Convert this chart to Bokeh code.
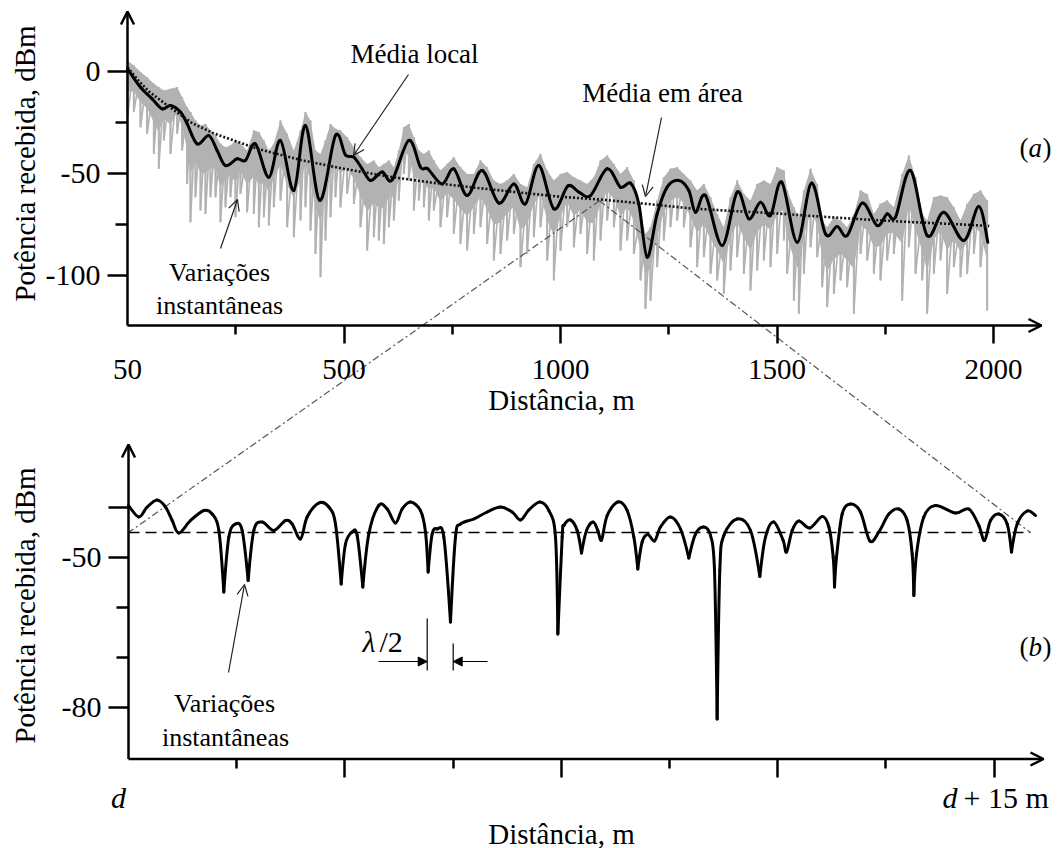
import numpy as np
from bokeh.plotting import figure
from bokeh.models import Range1d, LinearAxis, FixedTicker, Arrow, OpenHead, NormalHead, Label
from bokeh.embed import file_html
from bokeh.resources import INLINE

# ---------------- data, panel (a): distance (m) vs received power (dBm) -------------
inst_x = [0, 14.6, 30.0, 45.4, 60.8, 72.3, 83.9, 99.3, 114.7, 126.2, 137.8, 145.4, 157.0, 168.6,
          180.1, 191.6, 203.2, 214.7, 226.3, 237.8, 249.4, 260.9, 276.3, 291.7, 303.3, 314.8,
          326.4, 337.9, 353.3, 368.7, 384.1, 399.5, 411.0, 422.6, 434.1, 445.7, 457.2, 468.8,
          480.3, 491.9, 507.3, 522.7, 538.1, 553.5, 568.9, 580.4, 592.0, 603.5, 615.1, 626.6,
          638.2, 649.7, 661.3, 672.8, 684.4, 695.9, 707.4, 722.8, 738.2, 753.6, 769.0, 784.4,
          799.8, 815.2, 830.6, 846.0, 861.4, 876.8, 892.2, 907.6, 923.0, 938.4, 953.8, 969.2,
          984.6, 1000.0, 1015.4, 1030.8, 1046.2, 1061.6, 1077.0, 1092.4, 1107.8, 1123.2, 1138.6,
          1154.0, 1169.4, 1184.8, 1196.3, 1207.8, 1223.2, 1238.6, 1254.0, 1269.4, 1284.8,
          1300.2, 1315.6, 1331.0, 1346.4, 1361.8, 1377.2, 1392.6, 1408.0, 1423.4, 1438.8,
          1454.2, 1469.6, 1485.0, 1500.4, 1515.8, 1523.5, 1538.9, 1550.4, 1562.0, 1577.4,
          1592.8, 1604.3, 1615.9, 1631.3, 1646.7, 1662.1, 1677.5, 1692.9, 1708.3, 1723.6,
          1739.0, 1754.4, 1769.8, 1789.1, 1804.5, 1819.9, 1835.3, 1846.8, 1862.2, 1877.6,
          1893.0, 1908.4, 1923.8, 1939.2, 1954.6, 1970.0, 1985.4]
inst_hi = [5.3, 2.8, -0.4, -2.9, -6.1, -7.8, -9.4, -8.6, -7.8, -12.7, -17.6, -20.0, -24.1, -26.6,
           -25.8, -29.0, -31.5, -35.5, -37.2, -36.4, -33.9, -35.5, -38.8, -29.0, -29.8, -33.9,
           -38.8, -35.5, -24.1, -30.6, -38.8, -29.0, -20.0, -24.1, -38.8, -40.5, -33.9, -25.8,
           -28.2, -29.0, -32.3, -37.2, -42.1, -45.4, -43.7, -47.0, -45.4, -43.7, -47.0, -38.8,
           -27.4, -25.8, -32.3, -38.8, -40.5, -38.8, -43.7, -48.6, -45.4, -42.1, -47.0, -50.3,
           -50.3, -43.7, -47.0, -53.5, -55.2, -53.5, -50.3, -55.2, -56.8, -45.4, -40.5, -48.6,
           -53.5, -50.3, -49.4, -51.9, -53.5, -55.2, -51.9, -43.7, -41.3, -45.4, -50.3,
           -47.0, -53.5, -69.9, -79.7, -76.4, -63.3, -51.9, -47.8, -47.0, -50.3,
           -53.5, -58.4, -55.2, -61.7, -69.9, -76.4, -61.7, -53.5, -60.1, -63.3,
           -55.2, -53.5, -55.2, -47.0, -48.6, -58.4, -66.6, -71.5, -58.4, -47.8,
           -55.2, -73.1, -76.4, -71.5, -73.1, -76.4, -69.9, -58.4, -60.1, -69.9,
           -64.9, -63.3, -66.6, -50.3, -41.3, -51.9, -69.9, -73.1, -61.7, -60.9,
           -61.7, -66.6, -73.1, -65.0, -60.1, -58.4, -63.3]
inst_lo = [-22.5, -20.0, -27.4, -30.6, -40.5, -47.8, -33.9, -40.5, -30.6, -38.8, -55.2, -74.0,
           -61.7, -68.2, -69.9, -61.7, -61.7, -74.0, -66.6, -61.7, -71.5, -60.1, -69.1, -69.9,
           -76.4, -71.5, -75.6, -66.6, -63.3, -76.4, -81.3, -73.1, -66.6, -78.0, -89.5, -100.9,
           -82.9, -71.5, -61.7, -66.6, -60.1, -65.0, -76.4, -87.8, -81.3, -82.9, -84.6, -76.4,
           -73.1, -63.3, -50.3, -53.5, -68.2, -63.3, -66.6, -73.1, -68.2, -76.4, -71.5, -79.7,
           -84.6, -87.8, -79.7, -76.4, -84.6, -92.7, -89.5, -82.9, -79.7, -96.0, -89.5, -81.3,
           -76.4, -92.7, -102.5, -88.0, -76.4, -86.2, -79.7, -89.5, -92.7, -82.9, -73.1, -76.4,
           -87.8, -82.9, -89.5, -102.5, -116.4, -112.4, -96.0, -82.9, -76.4, -73.1, -76.4,
           -86.2, -96.0, -91.1, -99.3, -102.5, -109.1, -97.6, -91.1, -99.3, -107.4,
           -97.6, -92.7, -96.0, -89.5, -82.9, -99.3, -112.4, -118.9, -99.3, -86.2,
           -91.1, -105.8, -115.6, -109.1, -102.5, -105.8, -118.9, -89.5, -92.7, -99.3,
           -102.5, -92.7, -89.5, -112.4, -86.2, -99.3, -102.5, -118.9, -99.3, -92.7,
           -109.1, -96.0, -100.9, -99.3, -89.5, -96.0, -117.3]

local_x = [0, 30.0, 57.0, 80.0, 99.3, 122.4, 137.8, 160.9, 187.8, 207.0, 226.3, 253.2, 272.5,
           295.6, 326.4, 353.3, 384.1, 411.0, 444.1, 480.3, 503.4, 522.7, 541.9, 561.2, 588.1,
           611.2, 649.7, 676.7, 693.6, 726.7, 753.6, 784.4, 819.1, 857.6, 892.2, 919.1, 949.9,
           984.6, 1017.0, 1042.3, 1069.3, 1107.8, 1138.6, 1161.7, 1180.9, 1200.1, 1223.2,
           1246.3, 1273.3, 1296.4, 1311.8, 1334.9, 1373.4, 1408.0, 1434.9, 1461.9, 1485.0,
           1511.0, 1546.6, 1579.7, 1612.0, 1639.0, 1662.1, 1696.7, 1731.3, 1754.4, 1773.7,
           1808.3, 1846.8, 1885.3, 1931.5, 1966.1, 1986.9]
local_y = [1.2, -7.8, -13.5, -18.4, -16.8, -20.0, -25.7, -35.6, -31.5, -38.8, -46.2, -42.9, -43.7,
           -35.6, -51.9, -33.9, -58.4, -26.6, -63.3, -31.5, -41.0, -42.1, -47.8, -53.5, -49.4,
           -53.2, -33.9, -47.0, -47.8, -55.2, -47.8, -60.9, -48.6, -64.6, -55.2, -65.0, -46.2,
           -67.4, -56.2, -59.2, -60.9, -47.8, -56.8, -54.8, -65.0, -91.1, -69.9,
           -56.8, -53.5, -58.4, -69.1, -60.9, -85.4, -59.2, -72.3, -64.2, -70.7,
           -54.3, -83.8, -54.8, -79.7, -76.1, -80.5, -64.6, -75.6, -69.9, -71.5,
           -48.6, -80.5, -69.1, -82.9, -66.3, -83.8]

area_x = [0, 25, 50, 100, 150, 200, 300, 400, 500, 600, 700, 800, 900, 1000, 1100, 1200, 1300,
          1400, 1500, 1600, 1700, 1800, 1900, 1990]
area_y = [2.0, -4.5, -10.0, -18.0, -25.5, -30.5, -38.0, -43.5, -47.8, -51.5, -54.5, -57.0, -59.3,
          -61.5, -63.0, -65.0, -67.2, -68.5, -69.7, -71.2, -72.6, -73.8, -74.8, -75.8]

# ---------------- data, panel (b): distance from d (m) vs received power (dBm) ------
fine_x = [0.0, 0.179, 0.324, 0.497, 0.641, 0.757, 0.872, 1.075, 1.306, 1.450, 1.566, 1.652, 1.739,
          1.854, 1.970, 2.074, 2.172, 2.317, 2.519, 2.721, 2.836, 2.981, 3.096, 3.299, 3.472,
          3.587, 3.686, 3.761, 3.876, 3.963, 4.061, 4.165, 4.338, 4.483, 4.627, 4.743, 4.887,
          5.060, 5.147, 5.193, 5.263, 5.349, 5.465, 5.580, 5.667, 5.754, 5.985, 6.216, 6.447,
          6.649, 6.794, 6.938, 7.129, 7.285, 7.400, 7.441, 7.516, 7.545, 7.660, 7.776, 7.851,
          7.938, 8.053, 8.134, 8.198, 8.296, 8.481, 8.642, 8.758, 8.827, 8.902, 9.001, 9.116,
          9.220, 9.393, 9.567, 9.711, 9.827, 9.971, 10.087, 10.156, 10.202, 10.248, 10.318,
          10.549, 10.780, 10.942, 11.040, 11.184, 11.346, 11.404, 11.502, 11.618, 11.808,
          12.022, 12.138, 12.213, 12.236, 12.271, 12.369, 12.513, 12.686, 12.848, 13.004,
          13.178, 13.351, 13.495, 13.582, 13.611, 13.657, 13.784, 13.986, 14.333, 14.564,
          14.737, 14.835, 14.940, 15.084, 15.228, 15.303, 15.402, 15.575, 15.719]
fine_y = [-39.6, -41.9, -39.9, -38.5, -39.9, -42.6, -45.1, -42.6, -40.6, -41.3, -44.6, -56.9, -45.9,
          -43.3, -44.6, -54.6, -44.6, -42.9, -44.6, -42.6, -43.3, -46.3, -41.9, -39.1, -39.9,
          -43.3, -55.3, -47.3, -44.9, -45.6, -55.9, -45.3, -39.6, -40.3, -43.1, -40.3, -38.9,
          -40.6, -44.9, -52.9, -45.3, -44.3, -45.9, -62.9, -45.9, -43.3, -42.3, -40.9, -39.9,
          -40.9, -42.5, -40.5, -38.9, -40.6, -45.9, -65.3, -45.9, -43.6, -42.5, -44.6, -49.1,
          -44.6, -42.9, -44.6, -46.5, -41.6, -38.9, -40.6, -45.9, -52.3, -46.9, -45.4, -46.7,
          -43.9, -41.9, -44.3, -50.1, -45.3, -43.9, -45.6, -52.6, -82.3, -52.6, -45.6,
          -42.3, -44.6, -53.8, -45.9, -42.9, -46.6, -48.9, -44.6, -42.7, -44.1,
          -41.8, -43.9, -49.9, -55.9, -49.9, -41.3, -39.3, -40.9, -46.7, -44.9,
          -41.3, -40.3, -42.6, -49.3, -57.6, -49.3, -41.9, -39.6, -41.1, -40.3,
          -43.6, -46.6, -42.6, -41.3, -43.3, -48.9, -43.3, -40.7, -41.6]
fine_level = -45.0

# ---------------- ticks ----------------
xa_ticks = [500, 1000, 1500, 2000]
xa_minor = [250, 750, 1250, 1750]
xa_origin = {0: "50"}
ya_ticks = [0, -50, -100]
ya_labels = {0: "0", -50: "-50", -100: "-100"}
ya_minor = [-25, -75]
xb_ticks = [3.75, 7.5, 11.25, 15]
xb_minor = [1.875, 5.625, 9.375, 13.125]
yb_ticks = [-40, -50, -80]
yb_labels = {-40: "", -50: "-50", -80: "-80"}
yb_minor = [-60, -70]
apex_a = (1090.0, -63.5)   # point of the area mean that is zoomed into (b)

# ---------------- layout (pixel placement of both panels on one canvas) ------------
W, H = 1063, 848
A_X0, A_XS, A_YREF, A_YPX, A_YS = 127.0, 0.433, -50.0, 172.8, 2.04
B_X0, B_XS, B_YREF, B_YPX, B_YS = 128.0, 57.7, -50.0, 557.0, 5.0


def a_at(px, py):
    return (px - A_X0) / A_XS, A_YREF - (py - A_YPX) / A_YS


def b_at(px, py):
    return (px - B_X0) / B_XS, B_YREF - (py - B_YPX) / B_YS


def b_to_a(xb, yb):
    px = B_X0 + xb * B_XS
    py = B_YPX - (yb - B_YREF) * B_YS
    return a_at(px, py)


FONT = "Liberation Serif"
GRAY = "#b2b2b2"
BB = dict(x_range_name="xb", y_range_name="yb")

p = figure(width=W, height=H, x_range=Range1d(a_at(0, 0)[0], a_at(W, 0)[0]),
           y_range=Range1d(a_at(0, H)[1], a_at(0, 0)[1]),
           x_axis_location=None, y_axis_location=None, toolbar_location=None,
           output_backend="svg", min_border=0, title=None)
p.extra_x_ranges = {"xb": Range1d(b_at(0, 0)[0], b_at(W, 0)[0])}
p.extra_y_ranges = {"yb": Range1d(b_at(0, H)[1], b_at(0, 0)[1])}
p.outline_line_color = None
p.background_fill_color = "white"
p.border_fill_color = "white"
for g in p.grid:
    g.visible = False

ya_axis_y = a_at(0, 325)[1]
yb_axis_y = b_at(0, 758.5)[1]


def smooth_line(xs, ys, width, sharp_minima=False, **kw):
    """Draw a curve through the read points with Bezier segments (Catmull-Rom tangents)."""
    xs = np.asarray(xs, float)
    ys = np.asarray(ys, float)
    n = len(xs)
    tx = np.zeros(n)
    ty = np.zeros(n)
    for i in range(n):
        i0, i1 = max(i - 1, 0), min(i + 1, n - 1)
        tx[i] = (xs[i1] - xs[i0]) / 6.0
        ty[i] = (ys[i1] - ys[i0]) / 6.0
        if sharp_minima and 0 < i < n - 1 and ys[i] < ys[i - 1] - 3 and ys[i] < ys[i + 1] - 3:
            tx[i] = ty[i] = 0.0
    p.bezier(x0=xs[:-1], y0=ys[:-1], x1=xs[1:], y1=ys[1:],
             cx0=xs[:-1] + tx[:-1], cy0=ys[:-1] + ty[:-1],
             cx1=xs[1:] - tx[1:], cy1=ys[1:] - ty[1:],
             line_color="black", line_width=width, line_cap="round", **kw)


# ---------------- panel (a) ----------------
core = [h - 0.55 * (h - l) for h, l in zip(inst_hi, inst_lo)]
p.varea(x=inst_x, y1=core, y2=inst_hi, fill_color=GRAY)
zig_x = [v for x in inst_x for v in (x, x)]
zig_y = [v for h, l in zip(inst_hi, inst_lo) for v in (h, l)]
p.line(zig_x, zig_y, line_color=GRAY, line_width=1.6)
p.segment(x0=inst_x, y0=inst_hi, x1=inst_x, y1=inst_lo, line_color=GRAY, line_width=2.0)

# zoom connector lines (dash-dot)
l_end = b_to_a(fine_x[0], fine_level)
r_end = b_to_a(fine_x[-1] - 0.09, fine_level)
for end in (l_end, r_end):
    p.line([apex_a[0], end[0]], [apex_a[1], end[1]], line_color="#555555", line_width=1.2,
           line_dash="7 3 2 3")

smooth_line(local_x, local_y, 3)
p.line(area_x, area_y, line_color="#111111", line_width=2.6, line_dash="2 2")

# ---------------- panel (b) ----------------
p.line([fine_x[0], fine_x[-1] - 0.09], [fine_level, fine_level], line_color="black",
       line_width=1.3, line_dash="11 6", **BB)
smooth_line(fine_x, fine_y, 3, sharp_minima=True, **BB)

# ---------------- axes ----------------
tick_style = dict(axis_line_color=None, major_tick_in=0, minor_tick_in=0,
                  major_tick_line_width=2.5, minor_tick_line_width=2.5,
                  major_tick_line_color="black", minor_tick_line_color="black",
                  major_label_text_font=FONT, major_label_text_color="black")

ax_a = LinearAxis(ticker=FixedTicker(ticks=xa_ticks, minor_ticks=xa_minor),
                  fixed_location=ya_axis_y, major_tick_out=18, minor_tick_out=9,
                  major_label_text_font_size="29px", major_label_standoff=16,
                  major_label_text_baseline="middle", **tick_style)
p.add_layout(ax_a, "below")
ax_a0 = LinearAxis(ticker=FixedTicker(ticks=list(xa_origin.keys()), minor_ticks=[]),
                   major_label_overrides=xa_origin, fixed_location=ya_axis_y,
                   major_tick_out=18, major_label_text_font_size="29px", major_label_standoff=16,
                   major_label_text_baseline="middle",
                   **{**tick_style, "major_tick_line_color": None})
p.add_layout(ax_a0, "below")
ay_a = LinearAxis(ticker=FixedTicker(ticks=ya_ticks, minor_ticks=ya_minor), fixed_location=0,
                  major_label_overrides=ya_labels,
                  major_tick_out=20, minor_tick_out=12, major_label_text_font_size="30px",
                  major_label_standoff=7, **tick_style)
p.add_layout(ay_a, "left")

ax_b = LinearAxis(ticker=FixedTicker(ticks=xb_ticks, minor_ticks=xb_minor),
                  fixed_location=yb_axis_y, major_tick_out=18, minor_tick_out=9,
                  **{**tick_style, "major_label_text_color": None}, **BB)
p.add_layout(ax_b, "below")
ay_b = LinearAxis(ticker=FixedTicker(ticks=yb_ticks, minor_ticks=yb_minor),
                  major_label_overrides=yb_labels, fixed_location=0,
                  major_tick_out=20, minor_tick_out=12, major_label_text_font_size="30px",
                  major_label_standoff=7, **tick_style, **BB)
p.add_layout(ay_b, "left")


def axis_arrow(x0, y0, x1, y1, **kw):
    p.add_layout(Arrow(end=OpenHead(size=13, line_width=2.5, line_color="black"),
                       x_start=x0, y_start=y0, x_end=x1, y_end=y1,
                       line_width=2.5, line_color="black", **kw))


axis_arrow(0, ya_axis_y, 0, a_at(0, 11)[1])
axis_arrow(0, ya_axis_y, a_at(1041, 0)[0], ya_axis_y)
axis_arrow(0, yb_axis_y, 0, b_at(0, 444)[1], **BB)
axis_arrow(0, yb_axis_y, b_at(1043, 0)[0], yb_axis_y, **BB)


# ---------------- texts ----------------
def text(where, s, size="27px", style="normal", align="center", angle=0, rng=None):
    x, y = where
    kw = BB if rng == "b" else {}
    p.add_layout(Label(x=x, y=y, text=s, text_font=FONT, text_font_size=size,
                       text_font_style=style, text_align=align, text_baseline="middle",
                       text_color="black", angle=angle, **kw))


def pointer(a, b, rng=None):
    kw = BB if rng == "b" else {}
    p.add_layout(Arrow(end=OpenHead(size=11, line_width=1.2, line_color="#222222"),
                       x_start=a[0], y_start=a[1], x_end=b[0], y_end=b[1],
                       line_width=1.2, line_color="#222222", **kw))


# panel (a)
text(a_at(24, 163), "Potência recebida, dBm", size="29px", angle=np.pi / 2)
text(a_at(561, 399), "Distância, m", size="29px")
text(a_at(414, 53), "Média local")
pointer(a_at(408, 74), a_at(353, 155))
text(a_at(662, 92), "Média em área")
pointer(a_at(661, 117), a_at(645, 196))
text(a_at(219, 272), "Variações", size="26px")
text(a_at(219, 305), "instantâneas", size="26px")
pointer(a_at(220, 248), a_at(237, 199))
text(a_at(1019, 147), "(", align="left")
text(a_at(1028, 147), "a", style="italic", align="left")
text(a_at(1042, 147), ")", align="left")

# panel (b)
text(b_at(24, 605), "Potência recebida, dBm", size="29px", angle=np.pi / 2, rng="b")
text(b_at(561, 833), "Distância, m", size="29px", rng="b")
text(b_at(118, 797), "d", size="30px", style="italic", rng="b")
text(b_at(942, 797), "d", size="30px", style="italic", align="left", rng="b")
text(b_at(963, 797), "+ 15 m", size="30px", align="left", rng="b")
text(b_at(224, 703), "Variações", size="26px", rng="b")
text(b_at(225, 737), "instantâneas", size="26px", rng="b")
pointer(b_at(228, 672), b_at(244, 584), rng="b")
text(b_at(1019, 646), "(", align="left", rng="b")
text(b_at(1028, 646), "b", style="italic", align="left", rng="b")
text(b_at(1042, 646), ")", align="left", rng="b")
text(b_at(362, 641), "λ", size="30px", style="italic", align="left", rng="b")
text(b_at(379, 641), "/2", size="30px", align="left", rng="b")

lam_l, lam_r = b_at(426.7, 0)[0], b_at(452.7, 0)[0]
p.segment(x0=[lam_l, lam_r], y0=[b_at(0, 618)[1], b_at(0, 643)[1]],
          x1=[lam_l, lam_r], y1=[b_at(0, 670)[1], b_at(0, 670)[1]],
          line_color="black", line_width=1.2, **BB)
ya = b_at(0, 661)[1]
for xs, xe in [(b_at(378, 0)[0], lam_l), (b_at(487, 0)[0], lam_r)]:
    p.add_layout(Arrow(end=NormalHead(size=9, line_color="black", fill_color="black", line_width=1),
                       x_start=xs, y_start=ya, x_end=xe, y_end=ya, line_width=1.2,
                       line_color="black", **BB))

open("out.html", "w").write(file_html(p, INLINE))
